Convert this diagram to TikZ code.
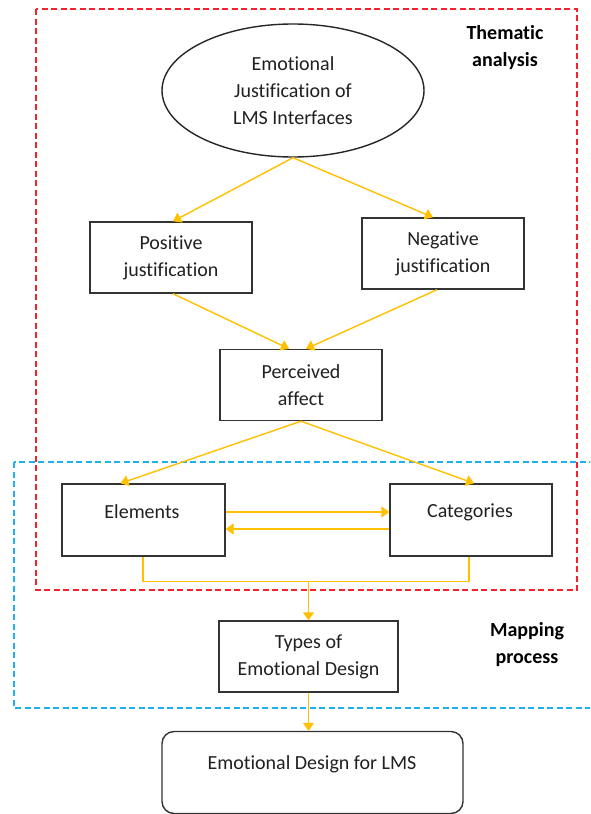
\documentclass[tikz,border=0pt]{standalone}
\usepackage{fontspec}
\setmainfont{Carlito}[Ligatures={NoCommon}]
\usetikzlibrary{arrows.meta,shapes.geometric,calc}
\definecolor{arrowyellow}{HTML}{FFC000}
\definecolor{redbox}{HTML}{F5212B}
\definecolor{bluebox}{HTML}{1EB0EC}
\definecolor{txt}{HTML}{202020}
\tikzset{
  boxnode/.style={draw=black!80,line width=1.4pt,minimum width=162pt,minimum height=71pt,inner sep=0pt},
  txtnode/.style={text=txt,align=center,font=\fontsize{20}{27}\selectfont},
  boldlabel/.style={text=black,align=center,font=\fontsize{20}{27}\selectfont\bfseries},
  flow/.style={draw=arrowyellow,line width=1.4pt,-{Triangle[width=11pt,length=8pt]}},
  flowline/.style={draw=arrowyellow,line width=1.6pt},
  regionred/.style={draw=redbox,line width=1.3pt,dash pattern=on 6pt off 3.5pt},
  regionblue/.style={draw=bluebox,line width=1.3pt,dash pattern=on 6pt off 3.5pt}
}
\begin{document}
\begin{tikzpicture}[x=1pt,y=-1pt]
\useasboundingbox (0,0) rectangle (590,814);
\clip (0,0) rectangle (590,814);
\fill[white] (0,0) rectangle (590,814);
% regions
\draw[regionred] (36,9) rectangle (577,590);
\draw[regionblue] (14,462) rectangle (600,708);
\node[boldlabel] (thematic) at (505,48) {Thematic\\analysis};
\node[boldlabel] (mapping) at (527,645) {Mapping\\process};
% nodes
\node[draw=black!85,line width=1.4pt,ellipse,minimum width=262pt,minimum height=133pt,inner sep=0pt,txtnode] (ell) at (293,90.5) {Emotional\\Justification of\\LMS Interfaces};
\node[boxnode,txtnode] (pos) at (171,257.5) {Positive\\justification};
\node[boxnode,txtnode] (neg) at (443,253.5) {Negative\\justification};
\node[boxnode,txtnode] (perc) at (301,385) {Perceived\\affect};
\node[boxnode,minimum width=163pt,minimum height=72pt] (elem) at (143.5,520) {};
\node[txtnode] (elemtxt) at (142,512) {Elements};
\node[boxnode,minimum width=162pt,minimum height=72pt] (cat) at (471,520) {};
\node[txtnode] (cattxt) at (470,512) {Categories};
\node[boxnode,txtnode,minimum width=179pt] (types) at (308.5,656.5) {Types of\\Emotional Design};
\node[boxnode,minimum width=301pt,minimum height=82pt,rounded corners=12pt] (final) at (312.5,772.5) {};
\node[txtnode] (finaltxt) at (312,764) {Emotional Design for LMS};
% connectors
\draw[flow] (ell.south) -- ([xshift=2pt]pos.north);
\draw[flow] (ell.south) -- ([xshift=-10pt]neg.north);
\draw[flow] ([xshift=2pt]pos.south) -- ([xshift=-12pt]perc.north);
\draw[flow] ([xshift=-6pt]neg.south) -- ([xshift=5pt]perc.north);
\draw[flow] (perc.south) -- ([xshift=-23pt]elem.north);
\draw[flow] (perc.south) -- ([xshift=3pt]cat.north);
\draw[flow] ([yshift=8pt]elem.east) -- ([yshift=8pt]cat.west);
\draw[flow] ([yshift=-9pt]cat.west) -- ([yshift=-9pt]elem.east);
\coordinate (junc) at ($(types.north)+(0,39pt)$);
\coordinate (elembot) at ([xshift=-0.5pt,yshift=-0.5pt]elem.south);
\draw[color=arrowyellow,line width=1.6pt] (elembot) -- (elembot |- junc) -- (junc);
\draw[flowline] (junc) -| ([xshift=-2pt]cat.south);
\draw[flow] (junc) -- (types.north);
\draw[flow] (types.south) -- (types.south |- final.north);
\end{tikzpicture}
\end{document}
